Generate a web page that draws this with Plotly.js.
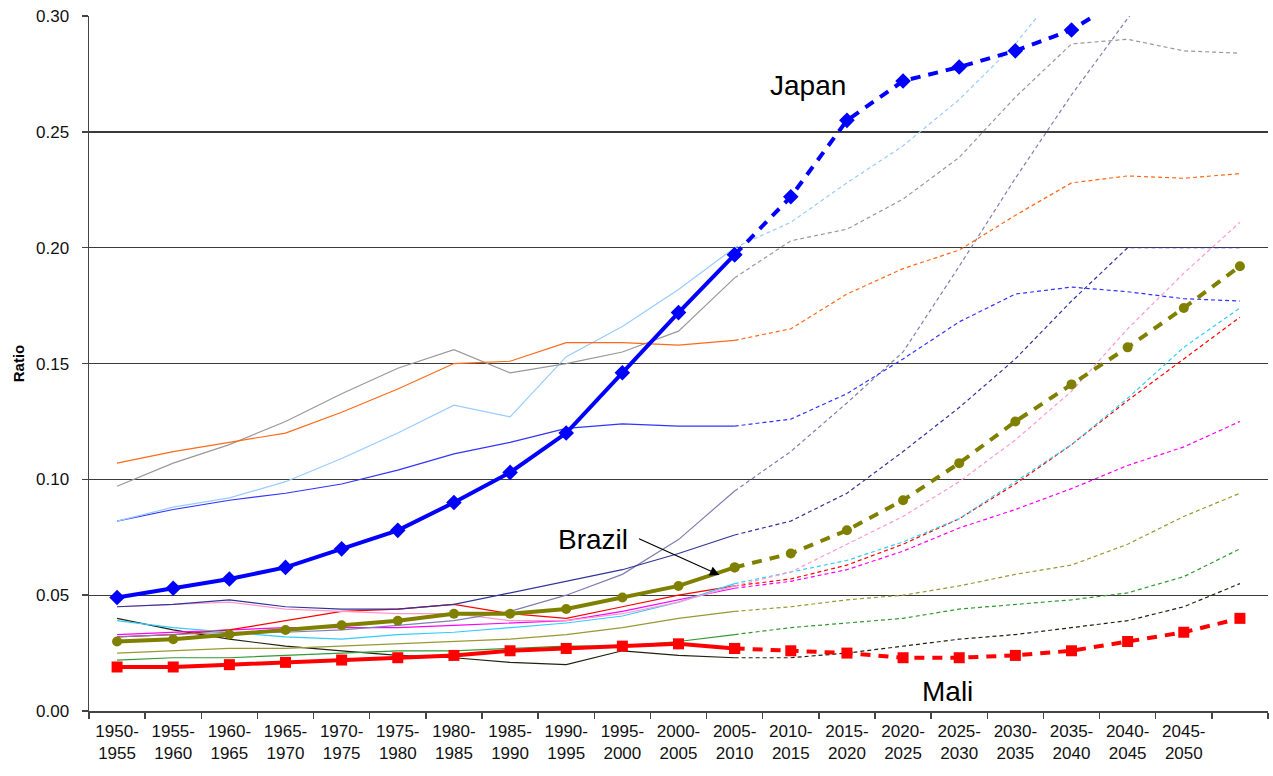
<!DOCTYPE html>
<html>
<head>
<meta charset="utf-8">
<script src="https://cdn.plot.ly/plotly-3.0.1.min.js"></script>
<style>
  html, body { margin: 0; padding: 0; background: #ffffff; }
  #chart { width: 1273px; height: 776px; }
</style>
</head>
<body>
<div id="chart"></div>
<script>
// ---- Data ----
const periods = [
  "1950-<br>1955", "1955-<br>1960", "1960-<br>1965", "1965-<br>1970", "1970-<br>1975",
  "1975-<br>1980", "1980-<br>1985", "1985-<br>1990", "1990-<br>1995", "1995-<br>2000",
  "2000-<br>2005", "2005-<br>2010", "2010-<br>2015", "2015-<br>2020", "2020-<br>2025",
  "2025-<br>2030", "2030-<br>2035", "2035-<br>2040", "2040-<br>2045", "2045-<br>2050"
];
const yTicks = [0, 0.05, 0.10, 0.15, 0.20, 0.25, 0.30];

const japan     = [0.049,0.053,0.057,0.062,0.070,0.078,0.090,0.103,0.120,0.146,0.172,0.197,0.222,0.255,0.272,0.278,0.285,0.294,0.309,0.320,0.330];
const brazil    = [0.030,0.031,0.033,0.035,0.037,0.039,0.042,0.042,0.044,0.049,0.054,0.062,0.068,0.078,0.091,0.107,0.125,0.141,0.157,0.174,0.192];
const mali      = [0.019,0.019,0.020,0.021,0.022,0.023,0.024,0.026,0.027,0.028,0.029,0.027,0.026,0.025,0.023,0.023,0.024,0.026,0.030,0.034,0.040];

const sOrange   = [0.107,0.112,0.116,0.120,0.129,0.139,0.150,0.151,0.159,0.159,0.158,0.160,0.165,0.180,0.191,0.199,0.214,0.228,0.231,0.230,0.232];
const sGray     = [0.097,0.107,0.115,0.125,0.137,0.148,0.156,0.146,0.150,0.155,0.164,0.187,0.203,0.208,0.221,0.239,0.265,0.288,0.290,0.285,0.284];
const sLightBlue= [0.082,0.088,0.092,0.099,0.109,0.120,0.132,0.127,0.153,0.166,0.182,0.200,0.211,0.228,0.244,0.264,0.288,0.318,0.340,0.355,0.365];
const sBlue     = [0.082,0.087,0.091,0.094,0.098,0.104,0.111,0.116,0.122,0.124,0.123,0.123,0.126,0.137,0.152,0.168,0.180,0.183,0.181,0.178,0.177];
const sNavy     = [0.045,0.046,0.048,0.045,0.044,0.044,0.046,0.051,0.056,0.061,0.068,0.076,0.082,0.094,0.112,0.131,0.152,0.177,0.200,0.200,0.200];
const sLavender = [0.032,0.033,0.034,0.034,0.035,0.037,0.039,0.043,0.050,0.059,0.074,0.095,0.112,0.133,0.155,0.192,0.230,0.266,0.299,0.330,0.360];
const sPink     = [0.045,0.046,0.047,0.044,0.043,0.042,0.042,0.039,0.039,0.042,0.047,0.054,0.060,0.072,0.084,0.099,0.117,0.138,0.165,0.189,0.211];
const sCyan     = [0.039,0.036,0.034,0.032,0.031,0.033,0.034,0.036,0.038,0.041,0.047,0.055,0.060,0.065,0.073,0.083,0.099,0.115,0.135,0.157,0.174];
const sRed      = [0.032,0.033,0.035,0.039,0.043,0.044,0.046,0.042,0.040,0.045,0.050,0.054,0.057,0.063,0.072,0.083,0.098,0.115,0.134,0.152,0.170];
const sMagenta  = [0.033,0.034,0.035,0.036,0.036,0.036,0.037,0.038,0.039,0.043,0.048,0.053,0.056,0.061,0.069,0.079,0.087,0.096,0.106,0.114,0.125];
const sOlive    = [0.025,0.026,0.027,0.027,0.028,0.029,0.030,0.031,0.033,0.036,0.040,0.043,0.045,0.048,0.050,0.054,0.059,0.063,0.072,0.084,0.094];
const sGreen    = [0.022,0.023,0.023,0.024,0.025,0.026,0.026,0.027,0.028,0.028,0.030,0.033,0.036,0.038,0.040,0.044,0.046,0.048,0.051,0.058,0.070];
const sBlack    = [0.040,0.035,0.031,0.028,0.026,0.024,0.023,0.021,0.020,0.026,0.024,0.023,0.023,0.025,0.028,0.031,0.033,0.036,0.039,0.045,0.055];

// index of the last observed period (2005-2010); projections are dashed afterwards
const lastObserved = 11;

// ---- Build traces ----
const nPoints = japan.length;
const xs = Array.from({length: nPoints}, (_, i) => i);
const traces = [];

function addSeries(vals, color, width, dash, marker) {
  const solid = vals.map((v, i) => (i <= lastObserved ? v : null));
  const proj  = vals.map((v, i) => (i >= lastObserved ? v : null));
  const base = {
    x: xs, mode: marker ? 'lines+markers' : 'lines',
    hoverinfo: 'skip', showlegend: false
  };
  const s = Object.assign({}, base, {y: solid, line: {color: color, width: width}});
  const p = Object.assign({}, base, {y: proj, line: {color: color, width: width, dash: dash}});
  if (marker) { s.marker = marker; p.marker = marker; }
  traces.push(s, p);
}

const thin = 1.2, thinDash = '4px,3px';
addSeries(sBlack,     '#222211', thin, thinDash);
addSeries(sGreen,     '#339933', thin, thinDash);
addSeries(sOlive,     '#999933', thin, thinDash);
addSeries(sMagenta,   '#FF00FF', thin, thinDash);
addSeries(sRed,       '#FF0000', thin, thinDash);
addSeries(sCyan,      '#33CCFF', thin, thinDash);
addSeries(sPink,      '#FF99CC', thin, thinDash);
addSeries(sLavender,  '#7F7FB0', thin, thinDash);
addSeries(sNavy,      '#333399', thin, thinDash);
addSeries(sBlue,      '#3333FF', thin, thinDash);
addSeries(sLightBlue, '#99CCFF', thin, thinDash);
addSeries(sGray,      '#999999', thin, thinDash);
addSeries(sOrange,    '#FF6A1A', thin, thinDash);

const thickDash = '10px,8px';
addSeries(mali,   '#FF0000', 4, thickDash, {symbol: 'square',  size: 11, color: '#FF0000'});
addSeries(brazil, '#808000', 4, thickDash, {symbol: 'circle',  size: 10, color: '#808000'});
addSeries(japan,  '#0000FF', 4, thickDash, {symbol: 'diamond', size: 12, color: '#0000FF'});

// ---- Layout ----
const fontFam = '"Liberation Sans", Arial, sans-serif';
const boundaries = Array.from({length: nPoints + 1}, (_, i) => i - 0.5);

const layout = {
  width: 1273, height: 776,
  margin: {l: 89, r: 5, t: 16, b: 65, pad: 0},
  paper_bgcolor: '#ffffff', plot_bgcolor: '#ffffff',
  font: {family: fontFam, color: '#111111', size: 17},
  showlegend: false,
  xaxis: {
    type: 'linear', range: [-0.5, nPoints - 0.5], fixedrange: true,
    tickmode: 'array', tickvals: periods.map((_, i) => i), ticktext: periods,
    ticks: '', showgrid: false, zeroline: false,
    showline: true, linecolor: '#444444', linewidth: 1.5,
    tickfont: {family: fontFam, size: 17, color: '#111111'},
    ticklabelstandoff: 4,
    minor: {tickmode: 'array', tickvals: boundaries, ticks: 'outside', ticklen: 6, tickcolor: '#444444', tickwidth: 1.5, showgrid: false}
  },
  yaxis: {
    range: [0, 0.30005], fixedrange: true,
    tickmode: 'array', tickvals: yTicks, tickformat: '.2f',
    ticks: 'outside', ticklen: 6, tickcolor: '#444444', tickwidth: 1.5,
    showgrid: true, gridcolor: '#3a3a3a', gridwidth: 1.2,
    zeroline: false, showline: true, linecolor: '#444444', linewidth: 1.5,
    tickfont: {family: fontFam, size: 17, color: '#111111'},
    ticklabelstandoff: 9,
    title: {text: 'Ratio', font: {family: fontFam, size: 15, color: '#000000', weight: 'bold'}, standoff: 8}
  },
  annotations: [
    {x: 12.3, y: 0.270, xref: 'x', yref: 'y', text: 'Japan', showarrow: false,
     font: {family: fontFam, size: 28, color: '#000000'}},
    {x: 8.47, y: 0.0742, xref: 'x', yref: 'y', text: 'Brazil', showarrow: false,
     font: {family: fontFam, size: 28, color: '#000000'}},
    {x: 10.73, y: 0.0587, xref: 'x', yref: 'y', text: '', showarrow: true,
     ax: -82, ay: -37, arrowhead: 2, arrowsize: 1.6, arrowwidth: 1.2, arrowcolor: '#000000'},
    {x: 14.8, y: 0.0086, xref: 'x', yref: 'y', text: 'Mali', showarrow: false,
     font: {family: fontFam, size: 28, color: '#000000'}}
  ]
};

Plotly.newPlot('chart', traces, layout, {displayModeBar: false, staticPlot: true});
</script>
</body>
</html>
